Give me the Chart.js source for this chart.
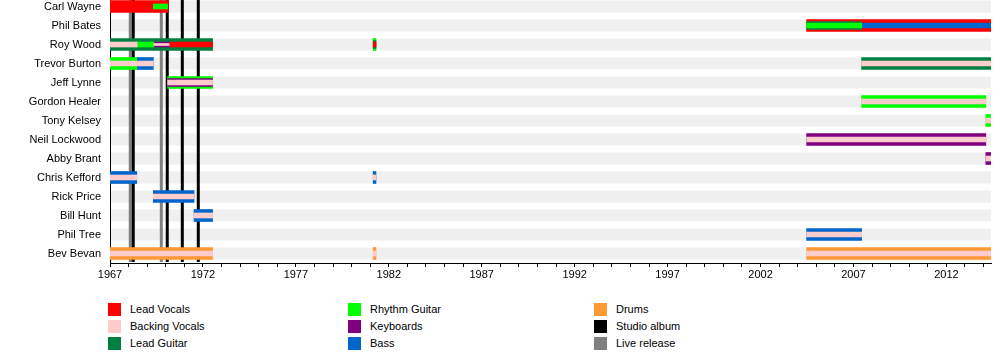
<!DOCTYPE html>
<html>
<head>
<meta charset="utf-8">
<script src="https://cdn.jsdelivr.net/npm/chart.js@4.4.1/dist/chart.umd.min.js"></script>
<style>
  body { margin: 0; background: #fff; font-family: "Liberation Sans", Arial, sans-serif; }
  #wrap { position: absolute; left: 0; top: -3px; width: 1000px; height: 296px; }
  .item { position: absolute; height: 13px; font-size: 11px; line-height: 13px; color: #000; white-space: nowrap; }
  .item span { position: absolute; left: 0; top: 0; width: 13px; height: 13px; }
  .item b { position: absolute; left: 22px; top: 0; font-weight: normal; }
</style>
</head>
<body>
<div id="wrap"><canvas id="chart"></canvas></div>
<div id="legend"></div>
<script>
const members = ["Carl Wayne", "Phil Bates", "Roy Wood", "Trevor Burton", "Jeff Lynne",
  "Gordon Healer", "Tony Kelsey", "Neil Lockwood", "Abby Brant", "Chris Kefford",
  "Rick Price", "Bill Hunt", "Phil Tree", "Bev Bevan"];

const years = [1967, 1972, 1977, 1982, 1987, 1992, 1997, 2002, 2007, 2012];

// [member, role, from, to] - full height bars
const mainBars = [
  ["Carl Wayne", "Lead Vocals", 1967.0, 1970.13],
  ["Phil Bates", "Lead Vocals", 2004.48, 2014.4],
  ["Roy Wood", "Lead Guitar", 1967.0, 1972.52],
  ["Roy Wood", "Rhythm Guitar", 1981.16, 1981.31],
  ["Trevor Burton", "Rhythm Guitar", 1967.0, 1968.44],
  ["Trevor Burton", "Bass", 1968.44, 1969.33],
  ["Trevor Burton", "Lead Guitar", 2007.44, 2014.4],
  ["Jeff Lynne", "Rhythm Guitar", 1970.1, 1972.52],
  ["Gordon Healer", "Rhythm Guitar", 2007.44, 2014.12],
  ["Tony Kelsey", "Rhythm Guitar", 2014.12, 2014.4],
  ["Neil Lockwood", "Keyboards", 2004.48, 2014.12],
  ["Abby Brant", "Keyboards", 2014.12, 2014.4],
  ["Chris Kefford", "Bass", 1967.0, 1968.44],
  ["Chris Kefford", "Bass", 1981.16, 1981.31],
  ["Rick Price", "Bass", 1969.33, 1971.52],
  ["Bill Hunt", "Bass", 1971.52, 1972.52],
  ["Phil Tree", "Bass", 2004.48, 2007.44],
  ["Bev Bevan", "Drums", 1967.0, 1972.52],
  ["Bev Bevan", "Drums", 1981.16, 1981.31],
  ["Bev Bevan", "Drums", 2004.48, 2014.4]
];

// second roles, drawn inside the main bar
const innerBars = [
  ["Phil Bates", "Lead Guitar", 2004.48, 2007.44],
  ["Roy Wood", "Lead Guitar", 1981.16, 1981.31],
  ["Jeff Lynne", "Keyboards", 1970.1, 1972.52]
];

const coreBars = [
  ["Carl Wayne", "Rhythm Guitar", 1969.33, 1970.1],
  ["Phil Bates", "Rhythm Guitar", 2004.48, 2007.44],
  ["Phil Bates", "Bass", 2007.44, 2014.4],
  ["Roy Wood", "Backing Vocals", 1967.0, 1968.46],
  ["Roy Wood", "Rhythm Guitar", 1968.46, 1969.36],
  ["Roy Wood", "Keyboards", 1969.36, 1970.18],
  ["Roy Wood", "Lead Vocals", 1970.18, 1972.52],
  ["Roy Wood", "Lead Vocals", 1981.16, 1981.31],
  ["Trevor Burton", "Backing Vocals", 1967.0, 1969.33],
  ["Trevor Burton", "Backing Vocals", 2007.44, 2014.4],
  ["Jeff Lynne", "Backing Vocals", 1970.1, 1972.52],
  ["Gordon Healer", "Backing Vocals", 2007.44, 2014.12],
  ["Tony Kelsey", "Backing Vocals", 2014.12, 2014.4],
  ["Neil Lockwood", "Backing Vocals", 2004.48, 2014.12],
  ["Abby Brant", "Backing Vocals", 2014.12, 2014.4],
  ["Chris Kefford", "Backing Vocals", 1967.0, 1968.44],
  ["Chris Kefford", "Backing Vocals", 1981.16, 1981.31],
  ["Rick Price", "Backing Vocals", 1969.33, 1971.52],
  ["Bill Hunt", "Backing Vocals", 1971.52, 1972.52],
  ["Phil Tree", "Backing Vocals", 2004.48, 2007.44],
  ["Bev Bevan", "Backing Vocals", 1967.0, 1972.52],
  ["Bev Bevan", "Backing Vocals", 1981.16, 1981.31],
  ["Bev Bevan", "Backing Vocals", 2004.48, 2014.4]
];

const threadBars = [
  ["Roy Wood", "Backing Vocals", 1969.36, 1970.18]
];

const studioAlbums = [1968.25, 1970.08, 1970.89, 1971.75];
const liveReleases = [1968.09, 1969.76];

const legendItems = ["Lead Vocals", "Backing Vocals", "Lead Guitar",
  "Rhythm Guitar", "Keyboards", "Bass",
  "Drums", "Studio album", "Live release"];

const colors = {
  "Lead Vocals": "#ff0000",
  "Backing Vocals": "#ffcccc",
  "Lead Guitar": "#008040",
  "Rhythm Guitar": "#00ff00",
  "Keyboards": "#800080",
  "Bass": "#0066cc",
  "Drums": "#ff9933",
  "Studio album": "#000000",
  "Live release": "#808080"
};

Chart.defaults.font.family = '"Liberation Sans", Arial, sans-serif';
Chart.defaults.font.size = 11;
Chart.defaults.color = "#000";

// one dataset per bar, thinner layers sit on top (lower order)
const datasets = [];
function addLayer(rows, thickness, order) {
  rows.forEach(([member, role, from, to]) => {
    datasets.push({
      label: role,
      data: members.map(m => (m === member ? [from, to] : null)),
      backgroundColor: colors[role],
      barThickness: thickness,
      grouped: false,
      borderWidth: 0,
      order: order
    });
  });
}
addLayer(mainBars, 12, 4);
addLayer(innerBars, 8, 3);
addLayer(coreBars, 5, 2);
addLayer(threadBars, 2, 1);

// row stripes and release lines, under the bars
const backdrop = {
  id: "backdrop",
  beforeDatasetsDraw(chart) {
    const { ctx, chartArea, scales } = chart;
    ctx.save();
    ctx.fillStyle = "#f0f0f0";
    members.forEach((m, i) => {
      const y = scales.y.getPixelForValue(i);
      ctx.fillRect(chartArea.left + 1, y - 6, chartArea.right - chartArea.left - 1, 12);
    });
    const line = (yr, color) => {
      const x = scales.x.getPixelForValue(yr);
      ctx.fillStyle = color;
      ctx.fillRect(x - 1.5, chartArea.top, 3, chartArea.bottom - chartArea.top - 1);
    };
    liveReleases.forEach(d => line(d, colors["Live release"]));
    studioAlbums.forEach(d => line(d, colors["Studio album"]));
    ctx.restore();
  }
};

const ctx = document.getElementById("chart");

new Chart(ctx, {
  type: "bar",
  data: { labels: members, datasets: datasets },
  options: {
    indexAxis: "y",
    responsive: true,
    maintainAspectRatio: false,
    animation: false,
    layout: { padding: { left: 0, right: 9, top: 0, bottom: 0 } },
    plugins: { legend: { display: false }, tooltip: { enabled: false } },
    scales: {
      x: {
        type: "linear",
        min: 1967,
        max: 2014.4,
        grid: { drawOnChartArea: false, drawTicks: true, tickLength: 4, color: "#000" },
        border: { color: "#000" },
        ticks: {
          stepSize: 1,
          autoSkip: false,
          maxRotation: 0,
          includeBounds: false,
          padding: 1,
          callback: v => (years.includes(v) ? String(v) : "")
        },
        afterFit: s => { s.height = 30; s.paddingLeft = 0; s.paddingRight = 0; }
      },
      y: {
        grid: { display: false, drawTicks: false },
        border: { color: "#000" },
        ticks: { padding: 9, autoSkip: false },
        afterFit: s => { s.width = 110; s.paddingTop = 0; s.paddingBottom = 0; }
      }
    }
  },
  plugins: [backdrop]
});

// legend in three columns
const legend = document.getElementById("legend");
const legendCols = [108, 348, 594];
legendItems.forEach((name, i) => {
  const el = document.createElement("div");
  el.className = "item";
  el.style.left = legendCols[Math.floor(i / 3)] + "px";
  el.style.top = (303 + (i % 3) * 17) + "px";
  el.innerHTML = '<span style="background:' + colors[name] + '"></span><b>' + name + "</b>";
  legend.appendChild(el);
});
</script>
</body>
</html>
